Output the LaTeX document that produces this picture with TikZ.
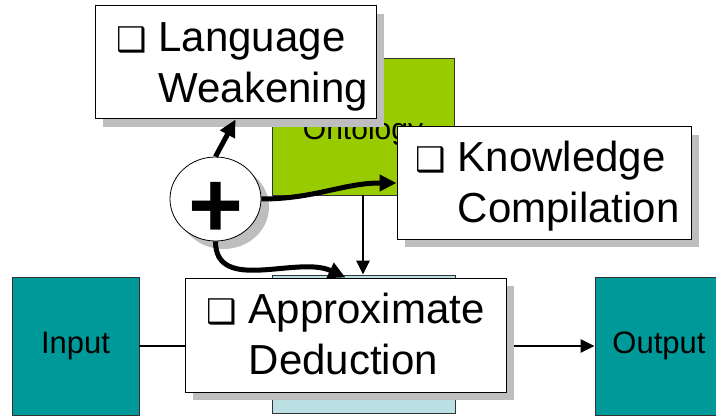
\documentclass[tikz,border=0pt]{standalone}
\usepackage{fontspec}
\setmainfont{Liberation Sans}
\newfontfamily\dejavu{DejaVu Sans}
\usetikzlibrary{shadows,shapes.geometric,arrows.meta}

\definecolor{boxteal}{RGB}{0,153,153}
\definecolor{ontgreen}{RGB}{153,204,0}
\definecolor{paleblue}{RGB}{187,224,227}
\definecolor{shadowgray}{RGB}{190,190,190}

\newcommand{\bul}{{\dejavu\fontsize{34}{34}\selectfont ❑}}
\newcommand{\bigtext}{\fontsize{42}{51}\selectfont}
\newcommand{\down}[2]{\raisebox{-#1}[\height][\depth]{#2}}

\tikzset{
  textbox/.style={draw=black,fill=white,line width=1pt,inner sep=0pt,font=\bigtext,
    drop shadow={shadow xshift=8pt,shadow yshift=-8pt,fill=shadowgray,opacity=1}},
  colbox/.style={draw=black!80,line width=0.8pt,inner sep=0pt,font=\fontsize{31}{36}\selectfont},
  fatarrow/.style={line width=5pt,-{Triangle[length=17pt,width=16pt]}},
  slimarrow/.style={line width=2.5pt,-{Triangle[length=14pt,width=13pt]}}
}

\begin{document}
\begin{tikzpicture}[x=1pt,y=1pt]
\clip (0,0) rectangle (716,416);

% coloured blocks
\node[colbox,fill=ontgreen,minimum width=182pt,minimum height=137pt,font=\fontsize{30}{36}\selectfont] (ont) at (363,289.5) {\down{5pt}{Ontology}};
\node[colbox,fill=paleblue,minimum width=183pt,minimum height=138pt] (lb) at (363.5,72) {};
\node[colbox,fill=boxteal,minimum width=127pt,minimum height=138pt] (in) at (75.5,70) {Input};
\node[colbox,fill=boxteal,minimum width=128pt,minimum height=138pt] (out) at (659,70) {Output};

\draw[slimarrow] (in) -- (out);
\draw[slimarrow] (ont.south) -- (ont.south |- lb.north);

% the three methods
\node[textbox,minimum width=281pt,minimum height=113pt] (lw) at (235.5,353.5)
  {\down{4pt}{\begin{tabular}{@{\hspace{13pt}}l@{\hspace{12pt}}l@{}}\bul & Language\\ & Weakening\end{tabular}}};
\node[textbox,minimum width=294pt,minimum height=112pt] (kc) at (544,233)
  {\down{4pt}{\begin{tabular}{@{\hspace{7pt}}l@{\hspace{12pt}}l@{}}\bul & Knowledge\\ & Compilation\end{tabular}}};
\node[textbox,minimum width=321pt,minimum height=114pt] (ad) at (345.5,81)
  {\down{4pt}{\begin{tabular}{@{}l@{\hspace{12pt}}l@{}}\bul & Approximate\\ & Deduction\end{tabular}}};

\node[ellipse,draw,fill=white,line width=0.8pt,minimum width=91pt,minimum height=84pt,inner sep=0pt,
  drop shadow={shadow xshift=8pt,shadow yshift=-8pt,fill=shadowgray,opacity=1},
  label={[font=\fontsize{94}{94}\selectfont\bfseries,yshift=-11pt]center:+}] (plus) at (215.5,217) {};

\draw[fatarrow] (plus.north) -- (lw.south);
\draw[fatarrow] (plus.east) to[out=0,in=180] (kc.west);
\draw[fatarrow] (plus.south) to[out=-90,in=155] (ad.north);
\end{tikzpicture}
\end{document}
